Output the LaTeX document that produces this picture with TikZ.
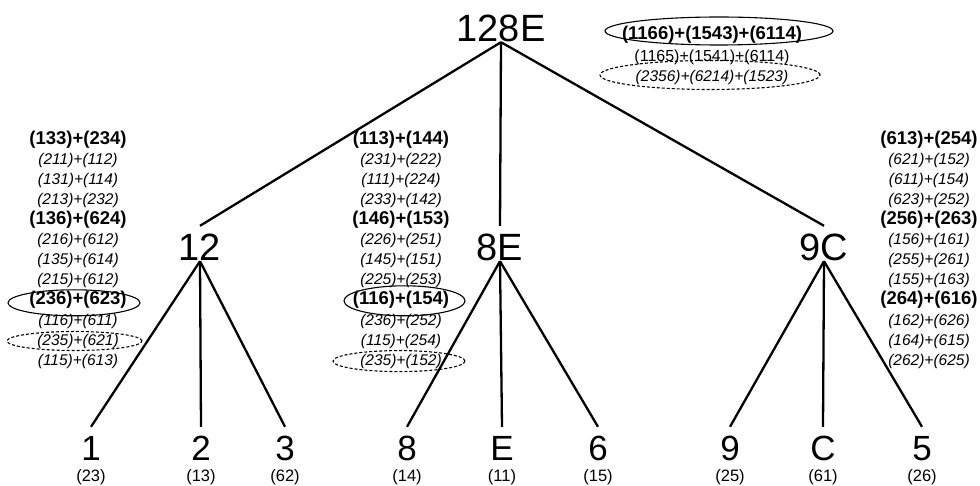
\documentclass[tikz,border=0pt]{standalone}
\usepackage{fontspec}
\setmainfont{Liberation Sans}
\usetikzlibrary{positioning, shapes.geometric}

\tikzset{
  big/.style={font=\fontsize{38}{40}\selectfont, inner sep=0pt, text height=35pt, text depth=0pt, anchor=base},
  leaf/.style={font=\fontsize{35}{37}\selectfont, inner sep=0pt, text height=33pt, text depth=0pt, anchor=base},
  sub/.style={font=\fontsize{16.5}{18}\selectfont, inner sep=0pt},
  branch/.style={line width=2.3pt},
  pairb/.style={font=\bfseries\fontsize{18.5}{20}\selectfont, inner sep=0pt, text height=14pt, text depth=5.7pt},
  pairi/.style={font=\itshape\fontsize{15.5}{18}\selectfont, inner sep=0pt, text height=14pt, text depth=5.7pt},
  pairu/.style={font=\fontsize{16}{18}\selectfont, inner sep=0pt, text height=14pt, text depth=5.7pt},
  oval/.style={draw, ellipse, line width=1.1pt, inner sep=0pt},
  ovald/.style={oval, dash pattern=on 3pt off 2pt},
}

\begin{document}
\begin{tikzpicture}[x=1pt, y=1pt]
    \useasboundingbox (0,0) rectangle (980,-486);
    % tree
    \node (root) [big] at (501,-42) {128E};
    \node (n12) [big] at (200,-261) {12};
    \node (n8E) [big] at (500,-261) {8E};
    \node (n9C) [big] at (824,-261) {9C};
    \node (lf1) [leaf] at (91,-460) {1};
    \node (lf2) [leaf] at (201,-460) {2};
    \node (lf3) [leaf] at (285,-460) {3};
    \node (lf8) [leaf] at (407,-460) {8};
    \node (lfE) [leaf] at (502,-460) {E};
    \node (lf6) [leaf] at (598,-460) {6};
    \node (lf9) [leaf] at (730,-460) {9};
    \node (lfC) [leaf] at (823,-460) {C};
    \node (lf5) [leaf] at (922,-460) {5};
    \draw [branch] (root.south) -- (n12.north);
    \draw [branch] (root.south) -- (n8E.north);
    \draw [branch] (root.south) -- (n9C.north);
    \draw [branch] (n12.south) -- (lf1.north);
    \draw [branch] (n12.south) -- (lf2.north);
    \draw [branch] (n12.south) -- (lf3.north);
    \draw [branch] (n8E.south) -- (lf8.north);
    \draw [branch] (n8E.south) -- (lfE.north);
    \draw [branch] (n8E.south) -- (lf6.north);
    \draw [branch] (n9C.south) -- (lf9.north);
    \draw [branch] (n9C.south) -- (lfC.north);
    \draw [branch] (n9C.south) -- (lf5.north);
    % counts under the leaves
    \node (s1) [sub, below=9pt of lf1] {(23)};
    \node (s2) [sub, below=9pt of lf2] {(13)};
    \node (s3) [sub, below=9pt of lf3] {(62)};
    \node (s8) [sub, below=9pt of lf8] {(14)};
    \node (sE) [sub, below=9pt of lfE] {(11)};
    \node (s6) [sub, below=9pt of lf6] {(15)};
    \node (s9) [sub, below=9pt of lf9] {(25)};
    \node (sC) [sub, below=9pt of lfC] {(61)};
    \node (s5) [sub, below=9pt of lf5] {(26)};
    % list beside 12
    \node (la1) [pairb] at (78,-140) {(133)+(234)};
    \node (la2) [pairi, below=0pt of la1] {(211)+(112)};
    \node (la3) [pairi, below=0pt of la2] {(131)+(114)};
    \node (la4) [pairi, below=0pt of la3] {(213)+(232)};
    \node (la5) [pairb, below=0pt of la4] {(136)+(624)};
    \node (la6) [pairi, below=0pt of la5] {(216)+(612)};
    \node (la7) [pairi, below=0pt of la6] {(135)+(614)};
    \node (la8) [pairi, below=0pt of la7] {(215)+(612)};
    \node (la9) [pairb, below=0pt of la8] {(236)+(623)};
    \node (la10) [pairi, below=0pt of la9] {(116)+(611)};
    \node (la11) [pairi, below=0pt of la10] {(235)+(621)};
    \node (la12) [pairi, below=0pt of la11] {(115)+(613)};
    \node (ova) [oval, minimum width=132pt, minimum height=26pt] at ([xshift=-4pt,yshift=-2pt]la9) {};
    \node (ovad) [ovald, minimum width=135pt, minimum height=19pt] at ([xshift=-3.5pt]la11) {};
    % list beside 8E
    \node (lb1) [pairb] at (401,-140) {(113)+(144)};
    \node (lb2) [pairi, below=0pt of lb1] {(231)+(222)};
    \node (lb3) [pairi, below=0pt of lb2] {(111)+(224)};
    \node (lb4) [pairi, below=0pt of lb3] {(233)+(142)};
    \node (lb5) [pairb, below=0pt of lb4] {(146)+(153)};
    \node (lb6) [pairi, below=0pt of lb5] {(226)+(251)};
    \node (lb7) [pairi, below=0pt of lb6] {(145)+(151)};
    \node (lb8) [pairi, below=0pt of lb7] {(225)+(253)};
    \node (lb9) [pairb, below=0pt of lb8] {(116)+(154)};
    \node (lb10) [pairi, below=0pt of lb9] {(236)+(252)};
    \node (lb11) [pairi, below=0pt of lb10] {(115)+(254)};
    \node (lb12) [pairi, below=0pt of lb11] {(235)+(152)};
    \node (ovb) [oval, minimum width=121pt, minimum height=30pt] at ([xshift=3.5pt]lb9) {};
    \node (ovbd) [ovald, minimum width=132pt, minimum height=21pt] at ([xshift=-2pt]lb12) {};
    % list beside 9C
    \node (lc1) [pairb] at (929,-140) {(613)+(254)};
    \node (lc2) [pairi, below=0pt of lc1] {(621)+(152)};
    \node (lc3) [pairi, below=0pt of lc2] {(611)+(154)};
    \node (lc4) [pairi, below=0pt of lc3] {(623)+(252)};
    \node (lc5) [pairb, below=0pt of lc4] {(256)+(263)};
    \node (lc6) [pairi, below=0pt of lc5] {(156)+(161)};
    \node (lc7) [pairi, below=0pt of lc6] {(255)+(261)};
    \node (lc8) [pairi, below=0pt of lc7] {(155)+(163)};
    \node (lc9) [pairb, below=0pt of lc8] {(264)+(616)};
    \node (lc10) [pairi, below=0pt of lc9] {(162)+(626)};
    \node (lc11) [pairi, below=0pt of lc10] {(164)+(615)};
    \node (lc12) [pairi, below=0pt of lc11] {(262)+(625)};
    % list beside 128E
    \node (t1) [pairb] at (712,-35) {(1166)+(1543)+(6114)};
    \node (t2) [pairu] at (712,-57) {(1165)+(1541)+(6114)};
    \node (t3) [pairi] at (712,-77) {(2356)+(6214)+(1523)};
    \node (ovt) [oval, minimum width=228pt, minimum height=28pt] at ([xshift=7pt,yshift=4pt]t1) {};
    \node (ovtd) [ovald, minimum width=220pt, minimum height=29pt] at ([xshift=-2pt,yshift=2pt]t3) {};
\end{tikzpicture}
\end{document}
